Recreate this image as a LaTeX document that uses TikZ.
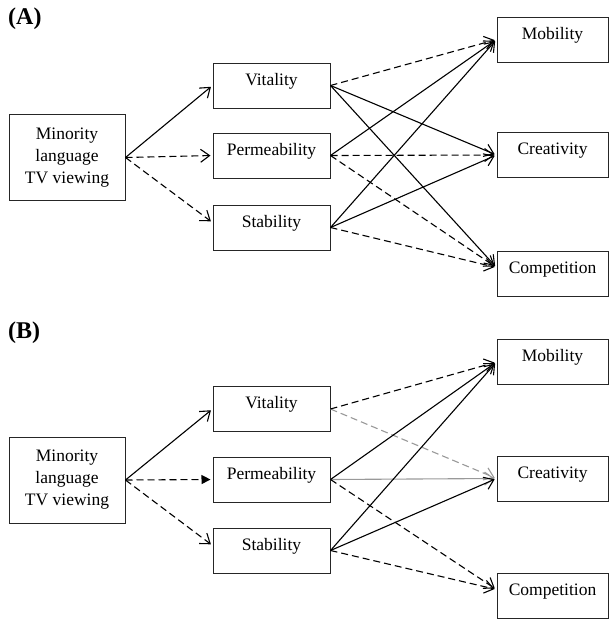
\documentclass[tikz,border=0pt]{standalone}
\usepackage{fontspec}
\setmainfont{Liberation Serif}
\usetikzlibrary{arrows.meta,calc}
\begin{document}
\begin{tikzpicture}[x=1pt,y=-1pt,
  font=\fontsize{17.5}{22}\selectfont,
  box/.style={draw=black!85, line width=1pt, inner sep=0pt},
  midbox/.style={box, minimum width=117pt, minimum height=45pt, text height=13pt, text depth=14pt, inner ysep=9pt},
  outbox/.style={box, minimum width=111pt, minimum height=45pt, text height=13pt, text depth=14pt, inner ysep=9pt},
  srcbox/.style={box, minimum width=116pt, minimum height=86pt, align=center},
  panel/.style={font=\fontsize{24}{28}\selectfont\bfseries, anchor=west, inner sep=0pt},
  conn/.style={line width=1.1pt, -{Straight Barb[length=9pt,width=13pt]}, shorten >=2pt},
  sig/.style={conn, black},
  ns/.style={conn, black, dash pattern=on 7pt off 4pt},
  gsig/.style={conn, black!40},
  gns/.style={conn, black!40, dash pattern=on 7pt off 4pt},
  fill tip/.style={-{Triangle[length=9pt,width=9pt]}}
]
\useasboundingbox (0,0) rectangle (609,619);

% ---------- Panel A ----------
\node[panel] (labA) at (8,19) {(A)};
\node[srcbox] (minA) at (67,157.5) {Minority\\language\\TV viewing};
\node[midbox] (vitA) at (271.5,85.5) {Vitality};
\node[midbox] (perA) at (271.5,155.5) {Permeability};
\node[midbox] (staA) at (271.5,227.5) {Stability};
\node[outbox] (mobA) at (552.5,39.5) {Mobility};
\node[outbox] (creA) at (552.5,155) {Creativity};
\node[outbox] (comA) at (552.5,273.5) {Competition};
\coordinate (comAin) at ($(comA.west)+(0,-6)$);
\coordinate (staAin) at ($(staA.west)+(0,-5)$);

\draw[sig] (minA.east) -- (vitA.west);
\draw[ns] (minA.east) -- (perA.west);
\draw[ns] (minA.east) -- (staAin);

\draw[ns] (vitA.east) -- (mobA.west);
\draw[sig] (vitA.east) -- (creA.west);
\draw[sig] (vitA.east) -- (comAin);
\draw[sig] (perA.east) -- (mobA.west);
\draw[ns] (perA.east) -- (creA.west);
\draw[ns] (perA.east) -- (comAin);
\draw[sig] (staA.east) -- (mobA.west);
\draw[sig] (staA.east) -- (creA.west);
\draw[ns] (staA.east) -- (comAin);

% ---------- Panel B ----------
\node[panel] (labB) at (8,333) {(B)};
\node[srcbox] (minB) at (67,480) {Minority\\language\\TV viewing};
\node[midbox] (vitB) at (271.5,409) {Vitality};
\node[midbox] (perB) at (271.5,479.5) {Permeability};
\node[midbox] (staB) at (271.5,550.5) {Stability};
\node[outbox] (mobB) at (552.5,362) {Mobility};
\node[outbox] (creB) at (552.5,478.5) {Creativity};
\node[outbox] (comB) at (552.5,595.5) {Competition};
\coordinate (comBin) at ($(comB.west)+(0,-6)$);
\coordinate (staBin) at ($(staB.west)+(0,-5)$);

\draw[sig] (minB.east) -- (vitB.west);
\draw[ns, fill tip] (minB.east) -- (perB.west);
\draw[ns] (minB.east) -- (staBin);

\draw[gns] (vitB.east) -- (creB.west);
\draw[gsig] (perB.east) -- (creB.west);
\draw[ns] (vitB.east) -- (mobB.west);
\draw[sig] (perB.east) -- (mobB.west);
\draw[ns] (perB.east) -- (comBin);
\draw[sig] (staB.east) -- (mobB.west);
\draw[sig] (staB.east) -- (creB.west);
\draw[ns] (staB.east) -- (comBin);
\end{tikzpicture}
\end{document}
